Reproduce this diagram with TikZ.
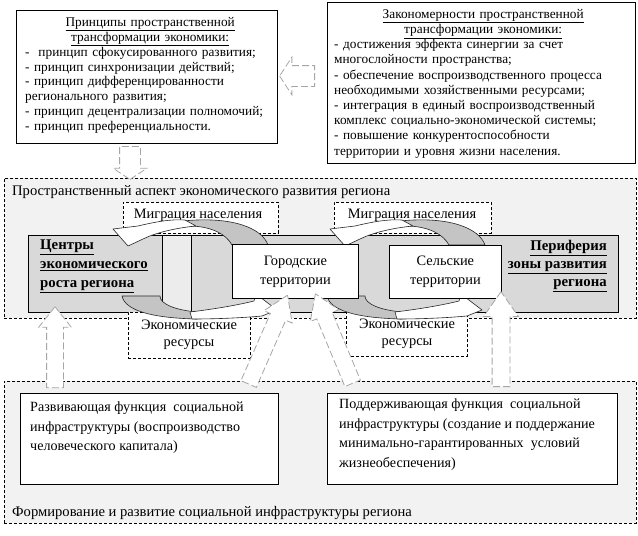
\documentclass[tikz,border=0pt]{standalone}
\usepackage{fontspec}
\setmainfont{Liberation Serif}
\usetikzlibrary{shapes.arrows}
\setlength{\parindent}{0pt}
\definecolor{bgfill}{HTML}{F2F2F2}
\definecolor{barfill}{HTML}{D9D9D9}
\definecolor{stripfill}{HTML}{ECECEC}
\definecolor{backfill}{HTML}{C4C4C4}
\definecolor{arrowline}{HTML}{A6A6A6}

\begin{document}
\begin{tikzpicture}[x=1pt,y=-1pt,font=\fontsize{14.4}{19}\selectfont,
    box/.style={draw,line width=.8pt,fill=white,inner sep=0pt,anchor=north west},
    dashbox/.style={draw,dash pattern=on 3pt off 2pt,line width=.7pt,fill=white,inner sep=0pt,anchor=north west},
    region/.style={draw,dash pattern=on 3pt off 2pt,line width=.7pt,fill=bgfill,inner sep=0pt,anchor=north west},
    bar/.style={draw,line width=.8pt,fill=barfill,inner sep=0pt,anchor=north west},
    txt/.style={inner sep=0pt,anchor=north west,align=left},
    bigarrow/.style={single arrow,draw=arrowline,fill=white,dash pattern=on 7pt off 3pt,line width=.8pt,
      inner xsep=0pt,minimum width=0pt,single arrow head indent=0pt,pos=.5,sloped,allow upside down},
    flow/.style={draw=black!85,line width=.6pt,line join=round}]
  \useasboundingbox (0,0) rectangle (638,536);

  % areas
  \node[region,minimum width=632pt,minimum height=140pt] (space) at (4,178) {};
  \node[region,minimum width=632pt,minimum height=142pt] (infra) at (4,381) {};
  \node[anchor=base west,inner sep=0pt,font=\fontsize{14.6}{17}\selectfont] (spacetitle) at (12,195) {Пространственный аспект экономического развития региона};
  \node[anchor=base west,inner sep=0pt,font=\fontsize{14.6}{17}\selectfont] (infratitle) at (12,516) {Формирование и развитие социальной инфраструктуры региона};

  % centres and periphery
  \node[bar,minimum width=134pt,minimum height=77pt] (centre) at (28,235) {};
  \node[bar,fill=stripfill,minimum width=29pt,minimum height=77pt] (gap) at (162,235) {};
  \node[bar,minimum width=427pt,minimum height=77pt] (perif) at (191,235) {};
  \node[txt,font=\fontsize{14.8}{19}\selectfont\bfseries] (centretext) at (40,240)
    {\underline{Центры}\\\underline{экономического}\\\underline{роста региона}};
  \node[txt,anchor=north east,align=right,font=\fontsize{14.8}{18}\selectfont\bfseries] (periftext) at (607,240)
    {\underline{Периферия}\\\underline{зоны развития}\\\underline{региона}};

  % flows
  \node[dashbox,minimum width=155pt,minimum height=31pt] (migr1) at (123,202) {};
  \node[dashbox,minimum width=157pt,minimum height=31pt] (migr2) at (334,202) {};
  \node[inner sep=0pt] (migr1text) at (198,215) {Миграция населения};
  \node[inner sep=0pt] (migr2text) at (412,215) {Миграция населения};
  \node[dashbox,minimum width=122pt,minimum height=46pt] (res1) at (128,312) {};
  \node[dashbox,minimum width=121pt,minimum height=44pt] (res2) at (346,312) {};
  \node[inner sep=0pt,align=center,font=\fontsize{14.4}{16.5}\selectfont] (res1text) at (189,335) {Экономические\\ресурсы};
  \node[inner sep=0pt,align=center,font=\fontsize{14.4}{16.5}\selectfont] (res2text) at (407,334) {Экономические\\ресурсы};

  \foreach \dx in {0,217} {
    \filldraw[flow,fill=backfill,xshift=\dx] (183,221) .. controls (232,216) and (262,228) .. (268,245)
      -- (232,245) .. controls (226,234) and (212,227) .. (192,226) -- cycle;
    \filldraw[flow,fill=white,xshift=\dx] (113,229) -- (138,226) .. controls (155,222) and (170,219) .. (185,220)
      -- (196,226) .. controls (175,228) and (155,233) .. (143,239) -- (128,246) -- cycle;
  }
  \foreach \dx in {0,205} {
    \filldraw[flow,fill=backfill,xshift=\dx] (122,296) -- (160,296) .. controls (160,304) and (175,310) .. (197,312)
      -- (197,319) .. controls (150,318) and (125,310) .. (122,296) -- cycle;
    \filldraw[flow,fill=white,xshift=\dx] (190,312) .. controls (215,309) and (238,305) .. (254,301) -- (256,294)
      -- (277,310) -- (262,316) .. controls (240,318) and (215,319) .. (192,319) -- cycle;
  }

  \node[box,minimum width=126pt,minimum height=54pt,align=center] (urban) at (232,244) {Городские\\территории};
  \node[box,minimum width=112pt,minimum height=53pt,align=center] (rural) at (389,245) {Сельские\\территории};

  % top boxes
  \node[box,minimum width=261pt,minimum height=133pt] (principles) at (16,10) {};
  \node[inner sep=0pt,anchor=north west,text width=250pt,font=\fontsize{13.3}{14.9}\selectfont] (principlestext) at (25,17)
    {\centering\underline{Принципы пространственной}\\\underline{трансформации экономики:}\par
     \raggedright -\ \ принцип сфокусированного развития;\\- принцип синхронизации действий;\\
     - принцип дифференцированности\\регионального развития;\\- принцип децентрализации\ полномочий;\\
     - принцип преференциальности.};
  \node[box,minimum width=308pt,minimum height=161pt] (laws) at (327,2) {};
  \node[inner sep=0pt,anchor=north west,text width=298pt,font=\fontsize{13.3}{15.2}\selectfont] (lawstext) at (334,9)
    {\centering\underline{Закономерности пространственной}\\\underline{трансформации экономики:}\par
     \raggedright - достижения эффекта синергии за счет\\многослойности пространства;\\
     - обеспечение воспроизводственного процесса\\необходимыми хозяйственными ресурсами;\\
     - интеграция в единый воспроизводственный\\комплекс социально-экономической системы;\\
     - повышение конкурентоспособности\\территории и уровня жизни населения.};

  % block arrows
  \coordinate (lawsout) at (318,76);
  \coordinate (princin) at (283,76);
  \coordinate (princout) at (130,143);
  \coordinate (spacein) at (130,176);
  \coordinate (devout) at (55,393);
  \coordinate (centrein) at (55,312);
  \coordinate (devout2) at (246,390);
  \coordinate (urbanin1) at (285,301);
  \coordinate (supout) at (355,389);
  \coordinate (urbanin2) at (318,300);
  \coordinate (supout2) at (501,393);
  \coordinate (ruralin) at (501,298);
  \path (lawsout) -- node[bigarrow,minimum height=35pt,inner ysep=10pt,single arrow head extend=8.5pt,single arrow tip angle=114] (lawsarrow) {} (princin);
  \path (princout) -- node[bigarrow,minimum height=33pt,inner ysep=10pt,single arrow head extend=6.5pt,single arrow tip angle=113] (princarrow) {} (spacein);
  \path (devout) -- node[bigarrow,minimum height=81pt,inner ysep=8pt,single arrow head extend=8pt,single arrow tip angle=77] (devarrow) {} (centrein);
  \path (devout2) -- node[bigarrow,minimum height=97pt,inner ysep=8pt,single arrow head extend=7pt,single arrow tip angle=66] (devarrow2) {} (urbanin1);
  \path (supout) -- node[bigarrow,minimum height=97pt,inner ysep=8pt,single arrow head extend=7pt,single arrow tip angle=66] (suparrow) {} (urbanin2);
  \path (supout2) -- node[bigarrow,minimum height=95pt,inner ysep=8.5pt,single arrow head extend=8.5pt,single arrow tip angle=70] (suparrow2) {} (ruralin);

  % bottom boxes
  \node[box,minimum width=258pt,minimum height=91pt] (devbox) at (20,393) {};
  \node[box,minimum width=290pt,minimum height=91pt] (supbox) at (327,393) {};
  \node[txt,font=\fontsize{14.1}{19.5}\selectfont] (devtext) at (30,402)
    {Развивающая функция\ \ социальной\\инфраструктуры (воспроизводство\\человеческого капитала)};
  \node[txt,font=\fontsize{14.1}{19.5}\selectfont] (suptext) at (339,399)
    {Поддерживающая функция\ \ социальной\\инфраструктуры (создание и поддержание\\минимально-гарантированных\ \ условий\\жизнеобеспечения)};
\end{tikzpicture}
\end{document}
